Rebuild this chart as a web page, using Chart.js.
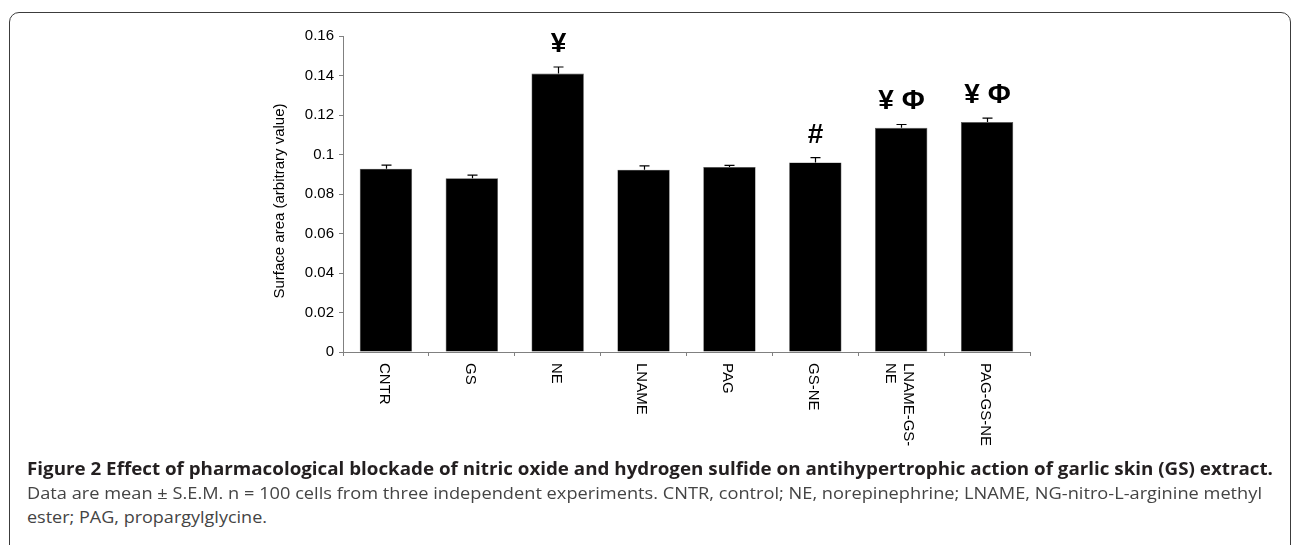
<!DOCTYPE html>
<html>
<head>
<meta charset="utf-8">
<title>Figure 2</title>
<script src="https://cdn.jsdelivr.net/npm/chart.js@4.4.1/dist/chart.umd.min.js"></script>
<style>
    html, body { margin: 0; padding: 0; background: #fff; }
    body { width: 1292px; height: 545px; position: relative; overflow: hidden; }
    .frame {
        position: absolute; left: 9px; top: 12px; width: 1282px; height: 600px;
        border: 1.5px solid #3c3c3c; border-radius: 10px; box-sizing: border-box;
    }
    #chartBox { position: absolute; left: 0; top: 0; width: 1292px; height: 460px; }
    .cap {
        position: absolute; left: 27px; white-space: nowrap;
        transform-origin: 0 0; font-family: 'Open Sans', sans-serif;
    }
    .cap.title { font-weight: 700; font-size: 18px; line-height: 18px; color: #231f20; top: 459px; }
    .cap.body { font-size: 17px; line-height: 17px; color: #444; }
</style>
</head>
<body>
<div class="frame"></div>
<div id="chartBox"><canvas id="barChart" width="1292" height="460"></canvas></div>

<div class="cap title" data-w="1246">Figure 2 Effect of pharmacological blockade of nitric oxide and hydrogen sulfide on antihypertrophic action of garlic skin (GS) extract.</div>
<div class="cap body" style="top:484px" data-w="1235">Data are mean ± S.E.M. n = 100 cells from three independent experiments. CNTR, control; NE, norepinephrine; LNAME, NG-nitro-L-arginine methyl</div>
<div class="cap body" style="top:508px" data-w="240">ester; PAG, propargylglycine.</div>

<script>
// ── Data ──
const groups = ['CNTR', 'GS', 'NE', 'LNAME', 'PAG', 'GS-NE', 'LNAME-GS-NE', 'PAG-GS-NE'];
const groupLines = [['CNTR'], ['GS'], ['NE'], ['LNAME'], ['PAG'], ['GS-NE'], ['LNAME-GS-', 'NE'], ['PAG-GS-NE']];
const meanValues = [0.0928, 0.0880, 0.1410, 0.0923, 0.0937, 0.0960, 0.1135, 0.1164];
const semValues = [0.0018, 0.0016, 0.0033, 0.0019, 0.0008, 0.0024, 0.0017, 0.0020];
const marks = ['', '', '¥', '', '', '#', '¥ Φ', '¥ Φ'];
const yTicks = [0, 0.02, 0.04, 0.06, 0.08, 0.1, 0.12, 0.14, 0.16];
const yTitle = 'Surface area (arbitrary value)';

const FONT = "'Liberation Sans', Arial, sans-serif";

// upper error bars, significance marks, axis title and rotated category labels
const extrasPlugin = {
    id: 'extras',
    afterDatasetsDraw(chart) {
        const { ctx, scales: { x, y } } = chart;
        ctx.save();
        ctx.strokeStyle = '#000';
        ctx.lineWidth = 1.2;
        meanValues.forEach((v, i) => {
            const cx = Math.round(x.getPixelForValue(i)) + 0.5;
            const yTop = y.getPixelForValue(v);
            const yErr = y.getPixelForValue(v + semValues[i]);
            ctx.beginPath();
            ctx.moveTo(cx, yTop);
            ctx.lineTo(cx, yErr);
            ctx.moveTo(cx - 5, yErr);
            ctx.lineTo(cx + 5, yErr);
            ctx.stroke();

            if (marks[i]) {
                ctx.fillStyle = '#000';
                ctx.font = 'bold 28px ' + FONT;
                ctx.textAlign = 'center';
                ctx.textBaseline = 'alphabetic';
                ctx.fillText(marks[i], cx, yErr - 15);
            }
        });
        ctx.restore();
    },
    afterDraw(chart) {
        const { ctx, scales: { x, y } } = chart;
        ctx.save();
        ctx.fillStyle = '#000';
        ctx.font = '15px ' + FONT;

        // y axis title, a little below the axis middle as in the figure
        ctx.save();
        ctx.translate(y.right - 63, (y.top + y.bottom) / 2 + 7);
        ctx.rotate(-Math.PI / 2);
        ctx.textAlign = 'center';
        ctx.textBaseline = 'middle';
        ctx.fillText(yTitle, 0, 0);
        ctx.restore();

        ctx.textAlign = 'left';
        ctx.textBaseline = 'middle';
        groupLines.forEach((lines, i) => {
            const cx = x.getPixelForValue(i) - 2;
            ctx.save();
            ctx.translate(cx, x.top + 11);
            ctx.rotate(Math.PI / 2);
            lines.forEach((txt, j) => {
                ctx.fillText(txt, 0, (j - (lines.length - 1) / 2) * 18);
            });
            ctx.restore();
        });
        ctx.restore();
    }
};

Chart.defaults.font.family = FONT;
Chart.defaults.color = '#000';

new Chart(document.getElementById('barChart'), {
    type: 'bar',
    data: {
        labels: groups,
        datasets: [{
            data: meanValues,
            backgroundColor: '#000',
            borderColor: '#555',
            borderWidth: 0.6,
            barPercentage: 0.61,
            categoryPercentage: 1
        }]
    },
    options: {
        responsive: false,
        devicePixelRatio: 1,
        animation: false,
        events: [],
        layout: { padding: { left: 263, right: 262, top: 36, bottom: 0 } },
        plugins: { legend: { display: false }, tooltip: { enabled: false } },
        scales: {
            x: {
                ticks: { display: false },
                grid: { offset: true, drawOnChartArea: false, drawTicks: true, tickLength: 4, color: '#808080' },
                border: { color: '#808080', width: 1 },
                afterFit(scale) { scale.height = 108; }
            },
            y: {
                min: 0,
                max: 0.16,
                afterBuildTicks(scale) { scale.ticks = yTicks.map(v => ({ value: v })); },
                ticks: {
                    font: { size: 15 },
                    padding: 5,
                    callback: (v) => String(+v.toFixed(2))
                },
                grid: { drawOnChartArea: false, drawTicks: true, tickLength: 4, color: '#808080' },
                border: { color: '#808080', width: 1 },
                afterFit(scale) { scale.width = 80; }
            }
        }
    },
    plugins: [extrasPlugin]
});

// stretch caption lines to the widths measured on the figure
document.querySelectorAll('.cap').forEach(el => {
    const target = +el.dataset.w;
    const w = el.getBoundingClientRect().width;
    if (w > 0) el.style.transform = `scaleX(${(target / w).toFixed(4)})`;
});
</script>
</body>
</html>
